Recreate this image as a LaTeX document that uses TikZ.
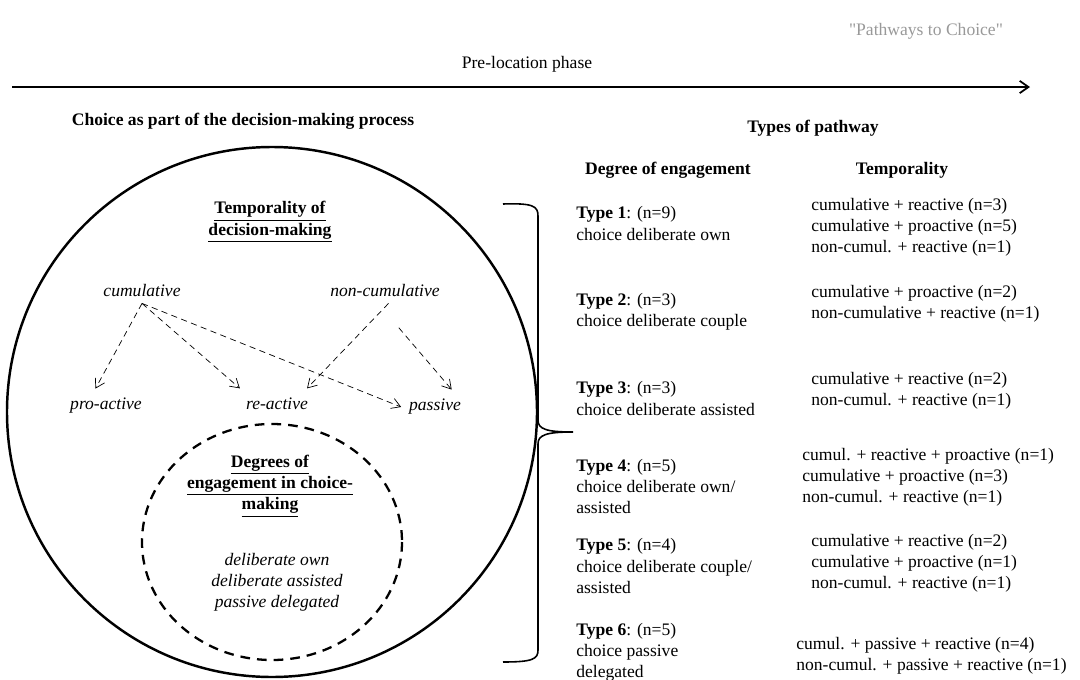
\documentclass[tikz,border=0pt]{standalone}
\usepackage{fontspec}
\setmainfont{Liberation Serif}
\usetikzlibrary{positioning, arrows.meta}

\begin{document}
\begin{tikzpicture}[
        x=0.02cm, y=-0.02cm,
        font=\fontsize{10}{12}\selectfont,
        heading/.style={font=\fontsize{10}{12}\selectfont\bfseries, align=center},
        term/.style={font=\fontsize{10}{12}\selectfont\itshape, align=center},
        typebox/.style={anchor=west, align=left, inner sep=0pt},
        tempbox/.style={anchor=west, align=left, inner sep=0pt},
        dasharrow/.style={-{Straight Barb[length=5pt, width=6pt]}, dash pattern=on 3.5pt off 2.5pt, thin},
        phasearrow/.style={-{Straight Barb[length=5pt, width=7pt]}, line width=1pt}
    ]
        \useasboundingbox (0,0) rectangle (1080,680);

        % Top line
        \node[text=black!40] (title) at (926,31) {\textquotedbl Pathways to Choice\textquotedbl};
        \node (phase) at (527,64) {Pre-location phase};
        \coordinate (tstart) at (12,87);
        \coordinate (tend) at (1030,87);
        \draw[phasearrow] (tstart) -- (tend);

        % Headings
        \node[heading] (choice) at (243,121) {Choice as part of the decision-making process};
        \node[heading] (types) at (813,128) {Types of pathway};
        \node[heading] (degree) at (668,170) {Degree of engagement};
        \node[heading] (tempo) at (902,170) {Temporality};

        % Circles
        \draw[line width=1.4pt] (272,412) circle [radius=265];
        \draw[line width=1.3pt, dash pattern=on 5.5pt off 4pt] (272,542) ellipse [x radius=130, y radius=118];

        % Temporality of decision-making
        \node[heading] (temphead) at (270,222) {\underline{Temporality of}\\\underline{decision-making}};
        \node[term] (cum) at (142,291) {cumulative};
        \node[term] (noncum) at (385,291) {non-cumulative};
        \node[term] (pro) at (106,406) {pro-active};
        \node[term] (re) at (277,404) {re-active};
        \node[term] (pass) at (435,407) {passive};

        \draw[dasharrow] (cum.south) -- ([xshift=-6pt, yshift=2pt]pro.north);
        \draw[dasharrow] (cum.south) -- ([xshift=0pt, yshift=2pt]re.north west);
        \draw[dasharrow] (cum.south) -- ([xshift=-1pt]pass.west);
        \draw[dasharrow] ([xshift=2pt]noncum.south) -- ([xshift=-4pt, yshift=2pt]re.north east);
        \draw[dasharrow, shorten <=0.64cm] ([xshift=-4pt]noncum.south) -- ([xshift=9.5pt, yshift=2pt]pass.north);

        % Degrees of engagement
        \node[heading] (enghead) at (270,486) {\underline{Degrees of}\\\underline{engagement in choice-}\\\underline{making}};
        \node[term] (englist) at (277,582) {deliberate own\\deliberate assisted\\passive delegated};

        % Brace
        \coordinate (btop) at (503,204);
        \coordinate (btip) at (573,432);
        \coordinate (bbot) at (503,662);
        \draw[line width=0.9pt] (btop) .. controls (533,203) and (538,206) .. (538,216)
            -- (538,420) .. controls (538,429) and (546,432) .. (btip)
            .. controls (546,432) and (538,435) .. (538,444)
            -- (538,650) .. controls (538,659) and (533,662) .. (bbot);

        % Types of pathway
        \node[typebox] (type1) at (576,223.5) {\textbf{Type 1}: (n=9)\\choice deliberate own};
        \node[typebox] (type2) at (576,311.5) {\textbf{Type 2}: (n=3)\\choice deliberate couple};
        \node[typebox] (type3) at (576,398.5) {\textbf{Type 3}: (n=3)\\choice deliberate assisted};
        \node[typebox] (type4) at (576,486.5) {\textbf{Type 4}: (n=5)\\choice deliberate own/\\assisted};
        \node[typebox] (type5) at (576,566) {\textbf{Type 5}: (n=4)\\choice deliberate couple/\\assisted};
        \node[typebox] (type6) at (576,652) {\textbf{Type 6}: (n=5)\\choice passive\\delegated};

        \node[tempbox] (temp1) at (811,227) {cumulative + reactive (n=3)\\cumulative + proactive (n=5)\\non-cumul. + reactive (n=1)};
        \node[tempbox] (temp2) at (811,304) {cumulative + proactive (n=2)\\non-cumulative + reactive (n=1)};
        \node[tempbox] (temp3) at (811,390.5) {cumulative + reactive (n=2)\\non-cumul. + reactive (n=1)};
        \node[tempbox] (temp4) at (802,477) {cumul. + reactive + proactive (n=1)\\cumulative + proactive (n=3)\\non-cumul. + reactive (n=1)};
        \node[tempbox] (temp5) at (811,563) {cumulative + reactive (n=2)\\cumulative + proactive (n=1)\\non-cumul. + reactive (n=1)};
        \node[tempbox] (temp6) at (796,655.5) {cumul. + passive + reactive (n=4)\\non-cumul. + passive + reactive (n=1)};
    \end{tikzpicture}
\end{document}
